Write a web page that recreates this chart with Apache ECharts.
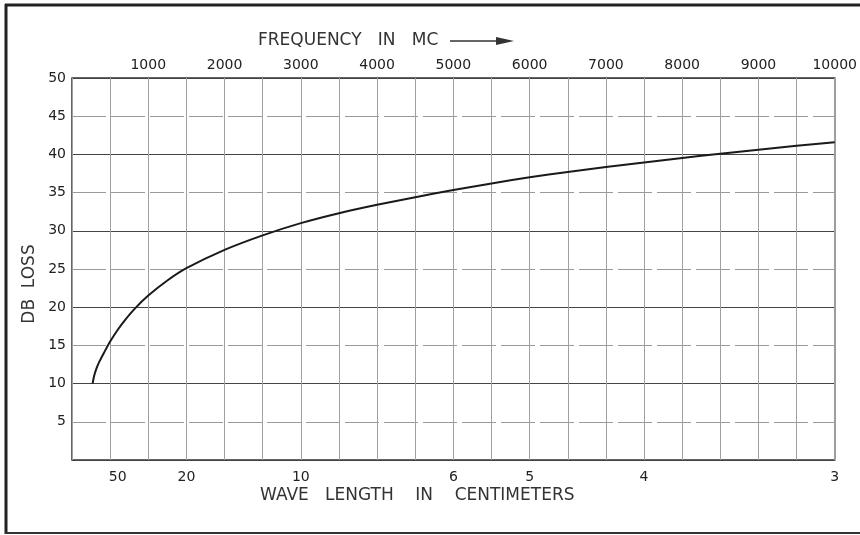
<!DOCTYPE html>
<html>
<head>
<meta charset="utf-8">
<script src="https://cdn.jsdelivr.net/npm/echarts@6/dist/echarts.min.js"></script>
<style>
  html, body { margin: 0; padding: 0; background: #fff; }
  #chart { width: 860px; height: 535px; }
</style>
</head>
<body>
<div id="chart"></div>
<script>
// Attenuation (dB loss) versus frequency in megacycles
const frequencyMc = [270, 290, 320, 360, 420, 500, 600, 700, 824, 1000, 1250, 1500, 2000, 2500, 3000, 3500, 4000, 4500, 5000, 5500, 6000, 6500, 7000, 7500, 8000, 8500, 9000, 9500, 10000];
const dbLoss      = [10.0, 11.0, 11.95, 12.9, 14.05, 15.5, 17.05, 18.38, 19.82, 21.52, 23.49, 25.1, 27.5, 29.4, 31.0, 32.3, 33.4, 34.4, 35.33, 36.2, 37.0, 37.7, 38.35, 38.95, 39.53, 40.08, 40.61, 41.12, 41.6];

// Wavelength scale (cm) printed under the frequency scale; f(MC) = 30000 / λ(cm)
const wavelengthCm = [50, 20, 10, 6, 5, 4, 3];
const wavelengthAtMc = wavelengthCm.map(w => 30000 / w);

const font = '"DejaVu Sans", sans-serif';
const ink = '#222';

const chart = echarts.init(document.getElementById('chart'), null, { renderer: 'canvas' });

chart.setOption({
  backgroundColor: '#fff',
  animation: false,
  grid: { left: 72, top: 78, right: 23, bottom: 75, show: true, borderColor: '#333', borderWidth: 1.5, backgroundColor: 'transparent' },
  xAxis: [
    {
      // frequency scale along the top
      type: 'value', position: 'top', min: 0, max: 10000, interval: 1000,
      axisLine: { show: false }, axisTick: { show: false },
      axisLabel: { margin: 6, color: ink, fontFamily: font, fontSize: 14,
        formatter: v => (v === 0 ? '' : String(v)) },
      splitLine: { show: true, lineStyle: { color: '#555', width: 1 } }
    },
    {
      // half-step grid and wavelength labels along the bottom
      type: 'value', position: 'bottom', min: 0, max: 10000, interval: 500,
      axisLine: { show: false }, axisTick: { show: false },
      axisLabel: { margin: 10, color: ink, fontFamily: font, fontSize: 14,
        customValues: wavelengthAtMc,
        formatter: v => String(Math.round(30000 / v)) },
      splitLine: { show: true, lineStyle: { color: '#a0a0a0', width: 1 } }
    }
  ],
  yAxis: [
    {
      type: 'value', min: 0, max: 50, interval: 5,
      axisLine: { show: false }, axisTick: { show: false },
      axisLabel: { margin: 6, color: ink, fontFamily: font, fontSize: 14,
        formatter: v => (v === 0 ? '' : String(v)) },
      splitLine: { show: true, lineStyle: { color: '#9a9a9a', width: 1, type: [34, 5] } }
    },
    {
      type: 'value', min: 0, max: 50, interval: 10, position: 'left',
      axisLine: { show: false }, axisTick: { show: false }, axisLabel: { show: false },
      splitLine: { show: true, lineStyle: { color: '#444', width: 1.2 } }
    }
  ],
  series: [{
    type: 'line',
    xAxisIndex: 0, yAxisIndex: 0,
    data: frequencyMc.map((f, i) => [f, dbLoss[i]]),
    smooth: 0.3,
    showSymbol: false,
    lineStyle: { color: '#1a1a1a', width: 2 },
    z: 5
  }],
  graphic: [
    // outer frame
    { type: 'line', shape: { x1: 5, y1: 5, x2: 860, y2: 5 }, style: { stroke: '#222', lineWidth: 3 } },
    { type: 'line', shape: { x1: 6, y1: 4, x2: 6, y2: 534 }, style: { stroke: '#222', lineWidth: 3 } },
    { type: 'line', shape: { x1: 5, y1: 533, x2: 860, y2: 533 }, style: { stroke: '#333', lineWidth: 2 } },
    // axis titles
    { type: 'text', left: 258, top: 32, style: { text: 'FREQUENCY   IN   MC', font: '17px ' + font, fill: '#333' } },
    { type: 'line', shape: { x1: 450, y1: 41, x2: 500, y2: 41 }, style: { stroke: '#333', lineWidth: 1.5 } },
    { type: 'polygon', shape: { points: [[496, 37], [514, 41], [496, 45]] }, style: { fill: '#333' } },
    { type: 'text', left: 260, top: 487, style: { text: 'WAVE   LENGTH    IN    CENTIMETERS', font: '17px ' + font, fill: '#333' } },
    { type: 'text', x: 30, y: 284, rotation: Math.PI / 2,
      style: { text: 'DB  LOSS', font: '17px ' + font, fill: '#333', align: 'center', verticalAlign: 'middle' } }
  ]
});
</script>
</body>
</html>
